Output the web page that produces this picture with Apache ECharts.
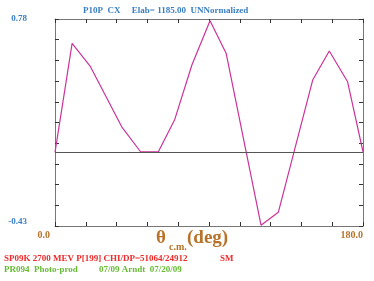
<!DOCTYPE html>
<html>
<head>
<meta charset="utf-8">
<script src="https://cdn.jsdelivr.net/npm/echarts@6/dist/echarts.min.js"></script>
<style>html,body{margin:0;padding:0;background:#fff}#c{width:374px;height:281px}</style>
</head>
<body>
<div id="c"></div>
<script>
var thetaDeg = [0, 10, 20.5, 39, 50, 60.4, 70, 80, 90.6, 100, 120.4, 130.5, 150.6, 160.3, 171, 180];
var ampValues = [0.0, 0.638, 0.505, 0.15, 0.004, 0.004, 0.193, 0.511, 0.77, 0.58, -0.425, -0.35, 0.423, 0.593, 0.413, 0.004];
var yRange = [-0.43, 0.78];
var xRange = [0, 180];
var titleText = 'P10P  CX     Elab= 1185.00  UNNormalized';
var footRed = 'SP09K 2700 MEV P[199] CHI/DP=51064/24912';
var footRed2 = 'SM';
var footGreen = 'PR094  Photo-prod';
var footGreen2 = '07/09 Arndt  07/20/09';

var serif = '"Liberation Serif", "DejaVu Serif", serif';
var data = thetaDeg.map(function (x, i) { return [x, ampValues[i]]; });
var yInt = (yRange[1] - yRange[0]) / 10;
var axisGray = '#777';

var chart = echarts.init(document.getElementById('c'));
function xAx(pos, show) {
  return {
    type: 'value', position: pos, min: xRange[0], max: xRange[1], interval: 18,
    axisLine: { show: true, onZero: false, lineStyle: { color: axisGray, width: 1 } },
    axisTick: { show: true, inside: true, length: 4, lineStyle: { color: '#333' } },
    splitLine: { show: false },
    axisLabel: show ? {
      show: true, margin: 4, align: 'right', fontFamily: serif, fontWeight: 'bold', fontSize: 10, color: '#b8732a',
      formatter: function (v) {
        if (Math.abs(v - xRange[0]) < 1e-6) return '{a|0.0}';
        if (Math.abs(v - xRange[1]) < 1e-6) return '{b|180.0}';
        return '';
      },
      rich: {
        a: { fontFamily: serif, fontWeight: 'bold', fontSize: 10, color: '#b8732a', padding: [0, 5, 0, 0] },
        b: { fontFamily: serif, fontWeight: 'bold', fontSize: 10, color: '#b8732a' }
      }
    } : { show: false }
  };
}
function yAx(pos, show) {
  return {
    type: 'value', position: pos, min: yRange[0], max: yRange[1], interval: yInt,
    axisLine: { show: true, onZero: false, lineStyle: { color: axisGray, width: 1 } },
    axisTick: { show: true, inside: true, length: 4, lineStyle: { color: '#333' } },
    splitLine: { show: false },
    axisLabel: show ? {
      show: true, margin: 28, fontFamily: serif, fontWeight: 'bold', fontSize: 9, color: '#3a7fc4',
      formatter: function (v) {
        if (Math.abs(v - yRange[0]) < 1e-6) return '{b|-0.43}';
        if (Math.abs(v - yRange[1]) < 1e-6) return '{a|0.78}';
        return '';
      },
      rich: {
        a: { fontFamily: serif, fontWeight: 'bold', fontSize: 9, color: '#3a7fc4' },
        b: { fontFamily: serif, fontWeight: 'bold', fontSize: 9, color: '#3a7fc4', padding: [0, 0, 8, 0] }
      }
    } : { show: false }
  };
}
chart.setOption({
  animation: false,
  grid: { left: 55, right: 11, top: 19, bottom: 55 },
  xAxis: [xAx('bottom', true), xAx('top', false)],
  yAxis: [yAx('left', true), yAx('right', false)],
  graphic: [
    { type: 'text', left: 83, top: 6, style: { text: titleText, font: 'bold 9px ' + serif, fill: '#3a7fc4' } },
    { type: 'text', left: 156, top: 229, style: { text: '\u03b8', font: 'bold 19px ' + serif, fill: '#b8732a' } },
    { type: 'text', left: 169, top: 242, style: { text: 'c.m.', font: 'bold 10px ' + serif, fill: '#b8732a' } },
    { type: 'text', left: 187, top: 229, style: { text: '(deg)', font: 'bold 19px ' + serif, fill: '#b8732a' } },
    { type: 'text', left: 4, top: 254, style: { text: footRed, font: 'bold 9px ' + serif, fill: '#ee2a2a' } },
    { type: 'text', left: 220, top: 254, style: { text: footRed2, font: 'bold 9px ' + serif, fill: '#ee2a2a' } },
    { type: 'text', left: 4, top: 265, style: { text: footGreen, font: 'bold 9px ' + serif, fill: '#66bb33' } },
    { type: 'text', left: 99, top: 265, style: { text: footGreen2, font: 'bold 9px ' + serif, fill: '#66bb33' } }
  ],
  series: [{
    type: 'line', data: data, showSymbol: false, symbol: 'none',
    lineStyle: { color: '#cc3399', width: 1.2 },
    markLine: {
      silent: true, symbol: 'none', label: { show: false },
      lineStyle: { color: '#555', width: 1, type: 'solid' },
      data: [{ yAxis: 0 }]
    }
  }]
});
</script>
</body>
</html>
